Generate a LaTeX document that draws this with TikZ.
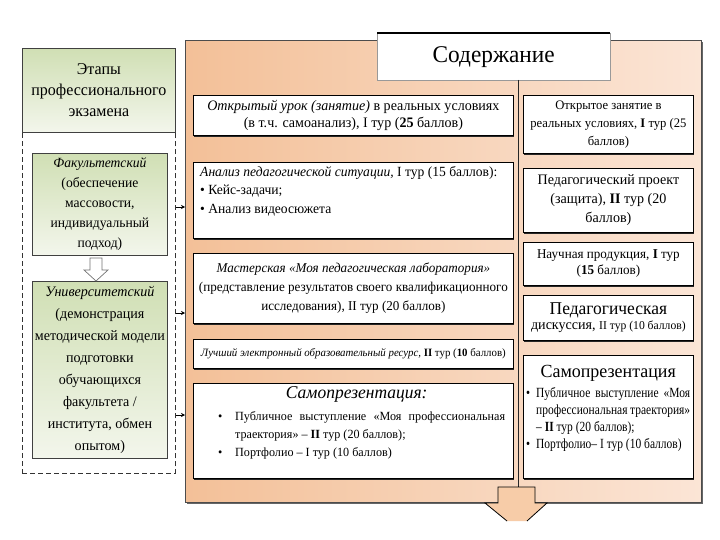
\documentclass[tikz,border=0pt]{standalone}
\usepackage{fontspec}
\setmainfont{Liberation Serif}[FakeStretch=0.97]
\newfontfamily\condfont{Liberation Serif}[FakeStretch=0.82]
\usetikzlibrary{arrows.meta,shadows,calc}
\definecolor{peachL}{RGB}{243,192,152}
\definecolor{peachR}{RGB}{251,229,214}
\definecolor{greenT}{RGB}{208,223,180}
\definecolor{greenB}{RGB}{243,246,236}
\definecolor{arrowfill}{RGB}{247,204,168}
\newcommand{\fs}[2]{\fontsize{#1}{#2}\selectfont}
\begin{document}
\begin{tikzpicture}[x=1pt,y=-1pt,
  greenbox/.style={draw=black!75, line width=0.8pt, top color=greenT, bottom color=greenB, inner sep=2pt, align=center, anchor=north west},
  whitebox/.style={draw=black, line width=0.8pt, fill=white, inner sep=3pt, anchor=north west, align=center,
    drop shadow={shadow xshift=1pt,shadow yshift=-1.5pt,fill=black!85,opacity=1}},
  conn/.style={-{Stealth[length=4pt,width=4pt]}, line width=0.6pt},
]
\useasboundingbox (0,0) rectangle (720,540);
\fill[white] (0,0) rectangle (720,540);

% left column
\node[draw=black!80, dash pattern=on 5pt off 3pt, line width=0.8pt, minimum width=153pt, minimum height=345pt, anchor=north west, inner sep=0] (stages) at (22,128) {};
\node[greenbox, minimum width=153pt, minimum height=84pt, font=\fs{16.5}{21}] (hdr) at (22,48) {Этапы\\профессионального\\экзамена};
\node[greenbox, minimum width=135pt, minimum height=102pt, font=\fs{14}{20}] (fac) at (32,153) {\textit{Факультетский}\\(обеспечение\\массовости,\\индивидуальный\\подход)};
\node[greenbox, minimum width=135pt, minimum height=177pt, font=\fs{14.5}{22}] (uni) at (32,281) {\textit{Университетский}\\(демонстрация\\методической модели\\подготовки\\обучающихся\\факультета /\\института, обмен\\опытом)};
\draw[draw=black!55, fill=white, line width=0.7pt] (90,258) -- (102,258) -- (102,270) -- (108,270) -- (96,281) -- (84,270) -- (90,270) -- cycle;

% container
\node[draw=black!70, line width=0.8pt, left color=peachL, right color=peachR, minimum width=516pt, minimum height=462pt, anchor=north west, inner sep=0,
  drop shadow={shadow xshift=1.5pt,shadow yshift=-1.5pt,fill=black!60,opacity=1}] (cont) at (185,40) {};

% connectors
\coordinate (k1) at (175,207);
\coordinate (k2) at (175,313);
\coordinate (k3) at (175,415);
\draw[conn] (stages.east |- k1) -- (cont.west |- k1);
\draw[conn] (stages.east |- k2) -- (cont.west |- k2);
\draw[conn] (stages.east |- k3) -- (cont.west |- k3);

% title and divider
\node[draw=black!40, fill=white, minimum width=233pt, minimum height=47pt, anchor=north west, inner sep=0, font=\fs{24}{28}] (title) at (377,33) {Содержание};
\draw[line width=2.5pt] (title.north west) -- (title.north east);
\coordinate (vtop) at (518,80);
\coordinate (vbot) at (518,488);
\draw[black!85, line width=0.6pt] (vtop) -- (vbot);

% left boxes
\node[whitebox, minimum width=320pt, minimum height=40pt, font=\fs{14.5}{17}] (l1) at (193,95) {\textit{Открытый урок (занятие)} в реальных условиях\\(в т.ч. самоанализ), I тур (\textbf{25} баллов)};
\node[whitebox, minimum width=320pt, minimum height=76pt] (l2) at (193,162) {};
\node[anchor=north west, align=left, inner sep=0, font=\fs{14}{18.5}] (l2t) at ($(l2.north west)+(7,4)$) {\textit{Анализ педагогической ситуации,} I тур (15 баллов):\\• Кейс-задачи;\\• Анализ видеосюжета};
\node[whitebox, minimum width=320pt, minimum height=70pt, font=\fs{13.5}{19}] (l3) at (193,253) {\textit{Мастерская «Моя педагогическая лаборатория»}\\(представление результатов своего квалификационного\\исследования), II тур (20 баллов)};
\node[whitebox, minimum width=320pt, minimum height=29pt, inner sep=1pt, font=\fs{11.2}{14}] (l4) at (193,339) {\textit{Лучший электронный образовательный ресурс,} \textbf{II} тур (\textbf{10} баллов)};
\node[whitebox, minimum width=320pt, minimum height=95pt] (l5) at (193,383) {};
\node[anchor=north west, inner sep=0, text width=297pt, align=justify] (l5t) at ($(l5.north west)+(15,3)$) {\parindent=0pt
  \makebox[\linewidth]{\fs{18}{20}\textit{Самопрезентация:}}\par\vspace{4pt}
  \fs{12.5}{18}\hangindent=27pt\hangafter=1\noindent\hspace*{10pt}\makebox[17pt][l]{•}Публичное выступление «Моя профессиональная траектория» – \textbf{II} тур (20 баллов);\par
  \hangindent=27pt\hangafter=1\noindent\hspace*{10pt}\makebox[17pt][l]{•}Портфолио – I тур (10 баллов)\par};

% right boxes
\node[whitebox, minimum width=170pt, minimum height=58pt, font=\fs{13}{18}] (r1) at (523,95) {Открытое занятие в\\реальных условиях, \textbf{I} тур (25\\баллов)};
\node[whitebox, minimum width=170pt, minimum height=64pt, font=\fs{14.5}{19}] (r2) at (523,168) {Педагогический проект\\(защита), \textbf{II} тур (20\\баллов)};
\node[whitebox, minimum width=170pt, minimum height=43pt, font=\fs{13.5}{16}] (r3) at (523,242) {Научная продукция, \textbf{I} тур\\(\textbf{15} баллов)};
\node[whitebox, minimum width=170pt, minimum height=45pt] (r4) at (523,295) {\fs{18}{21}Педагогическая\\[2pt]\fs{14.5}{21}дискуссия, \fs{12}{21}II тур (10 баллов)};
\node[whitebox, minimum width=170pt, minimum height=123pt] (r5) at (523,355) {};
\node[anchor=north west, inner sep=0, text width=164pt, align=justify] (r5t) at ($(r5.north west)+(3,10)$) {\parindent=0pt\hbadness=10000
  \makebox[\linewidth]{\fs{18.5}{21}Самопрезентация}\par\vspace{3pt}
  \condfont\fs{14}{17}\hangindent=10pt\hangafter=1\noindent\makebox[10pt][l]{•}Публичное выступление «Моя\linebreak профессиональная траектория»\linebreak – \textbf{II} тур (20 баллов);\par
  \hangindent=10pt\hangafter=1\noindent\makebox[10pt][l]{•}Портфолио– I тур (10 баллов)\par};

% bottom arrow
\fill[arrowfill] (498,487) -- (535,487) -- (535,503) -- (547,503) -- (527,521) -- (507,521) -- (485,503) -- (498,503) -- cycle;
\draw[black, line width=0.8pt] (507,521) -- (485,503) -- (498,503) -- (498,487) -- (535,487) -- (535,503) -- (547,503) -- (527,521);
\end{tikzpicture}
\end{document}
